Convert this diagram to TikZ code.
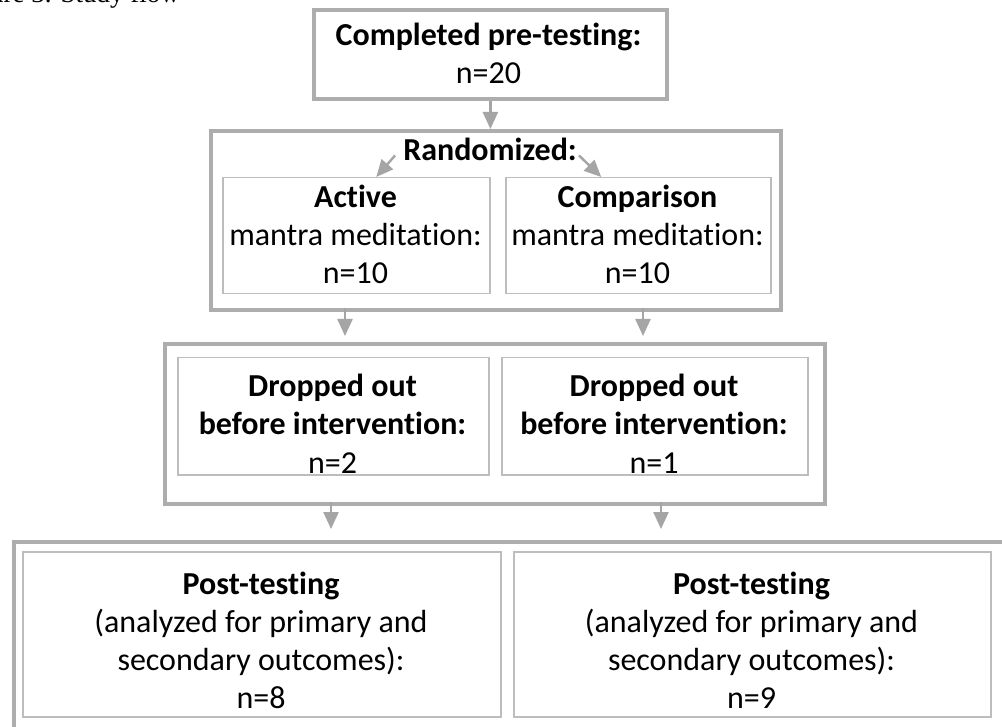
\documentclass[tikz,border=0pt]{standalone}
\usepackage{fontspec}
\setmainfont{Carlito}[Ligatures=NoCommon]
\newfontfamily\capfont{Liberation Serif}
\usetikzlibrary{arrows.meta}
\definecolor{outergray}{HTML}{ADADAD}
\definecolor{innergray}{HTML}{BDBDBD}
\definecolor{arrgray}{HTML}{A5A5A5}
\begin{document}
\begin{tikzpicture}[x=1pt,y=-1pt,
  box/.style={rectangle, anchor=north west, inner sep=0pt, fill=white},
  outerbox/.style={box, draw=outergray, line width=3.8pt},
  innerbox/.style={box, draw=innergray, line width=1.5pt},
  txt/.style={anchor=base, inner sep=0pt, font=\fontsize{32}{38}\selectfont},
  btxt/.style={anchor=base, inner sep=0pt, font=\fontsize{32}{38}\selectfont\bfseries},
  flow/.style={draw=arrgray, line width=2.4pt, -{Triangle[length=17pt,width=15pt]}}]
\useasboundingbox (0,0) rectangle (1002,727);
\clip (0,0) rectangle (1002,727);
\fill[white] (0,0) rectangle (1002,727);
% caption fragment
\node[anchor=base east, inner sep=0pt, font=\capfont\fontsize{27}{32}\selectfont] (cap) at (180,3) {Figure 3. Study flow};
% boxes
\node[outerbox, minimum width=353pt, minimum height=89pt] (comp) at (312,8) {};
\node[outerbox, minimum width=570pt, minimum height=179pt] (rand) at (209,129) {};
\node[innerbox, minimum width=267pt, minimum height=116pt] (active) at (222,177) {};
\node[innerbox, minimum width=265pt, minimum height=116pt] (compar) at (505,177) {};
\node[outerbox, minimum width=660pt, minimum height=160pt] (drop) at (163,342) {};
\node[innerbox, minimum width=311pt, minimum height=117pt] (dropl) at (177,357) {};
\node[innerbox, minimum width=306pt, minimum height=117pt] (dropr) at (501,357) {};
\node[outerbox, minimum width=1010pt, minimum height=200pt] (post) at (12,540) {};
\node[innerbox, minimum width=478pt, minimum height=165pt] (postl) at (22,551) {};
\node[innerbox, minimum width=477pt, minimum height=165pt] (postr) at (513,551) {};
% texts
\node[btxt] (t1) at (488.5,46) {Completed pre-testing:};
\node[txt] (t2) at (488.5,84) {n=20};
\node[btxt] (trand) at (490,161) {Randomized:};
\node[btxt] (ta1) at (355.5,208) {Active};
\node[txt] (ta2) at (355.5,246) {mantra meditation:};
\node[txt] (ta3) at (355.5,284) {n=10};
\node[btxt] (tc1) at (637.5,208) {Comparison};
\node[txt] (tc2) at (637.5,246) {mantra meditation:};
\node[txt] (tc3) at (637.5,284) {n=10};
\node[btxt] (tdl1) at (332.5,397) {Dropped out};
\node[btxt] (tdl2) at (332.5,435) {before intervention:};
\node[txt] (tdl3) at (332.5,473) {n=2};
\node[btxt] (tdr1) at (654,397) {Dropped out};
\node[btxt] (tdr2) at (654,435) {before intervention:};
\node[txt] (tdr3) at (654,473) {n=1};
\node[btxt] (tpl1) at (261,594) {Post-testing};
\node[txt] (tpl2) at (261,632) {(analyzed for primary and};
\node[txt] (tpl3) at (261,670) {secondary outcomes):};
\node[txt] (tpl4) at (261,708) {n=8};
\node[btxt] (tpr1) at (751.5,594) {Post-testing};
\node[txt] (tpr2) at (751.5,632) {(analyzed for primary and};
\node[txt] (tpr3) at (751.5,670) {secondary outcomes):};
\node[txt] (tpr4) at (751.5,708) {n=9};
% connectors
\draw[flow] (comp.south) -- (comp.south |- rand.north);
\draw[flow] ([xshift=-8pt,yshift=6pt]trand.south west) -- ([xshift=20pt]active.north);
\draw[flow] ([xshift=2pt,yshift=6pt]trand.south east) -- ([xshift=-37pt]compar.north);
\coordinate (ra) at (345,308);
\coordinate (rb) at (643,308);
\draw[flow, shorten >=6pt] (ra) -- (ra |- drop.north);
\draw[flow, shorten >=6pt] (rb) -- (rb |- drop.north);
\coordinate (da) at (331,502);
\coordinate (db) at (661,502);
\draw[flow, shorten >=11pt] (da) -- (da |- post.north);
\draw[flow, shorten >=11pt] (db) -- (db |- post.north);
\end{tikzpicture}
\end{document}
